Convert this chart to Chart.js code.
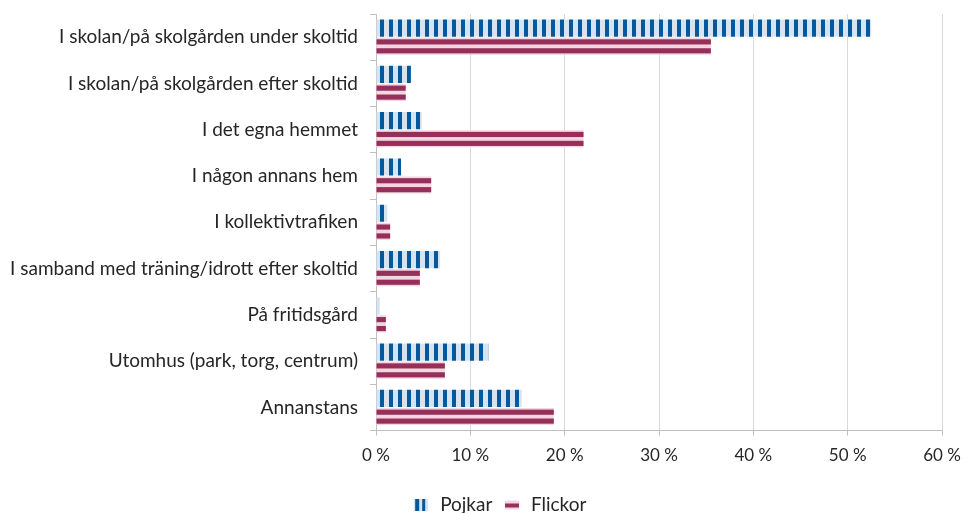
<!DOCTYPE html>
<html>
<head>
<meta charset="utf-8">
<script src="https://cdn.jsdelivr.net/npm/chart.js@4.4.1/dist/chart.umd.min.js"></script>
<style>
  html, body { margin: 0; padding: 0; background: #fff; }
  #wrap { width: 965px; height: 513px; }
</style>
</head>
<body>
<div id="wrap"><canvas id="myChart" width="965" height="513"></canvas></div>
<script>
// Categories and values (percent)
const places = [
  'I skolan/på skolgården under skoltid',
  'I skolan/på skolgården efter skoltid',
  'I det egna hemmet',
  'I någon annans hem',
  'I kollektivtrafiken',
  'I samband med träning/idrott efter skoltid',
  'På fritidsgård',
  'Utomhus (park, torg, centrum)',
  'Annanstans'
];
const pojkar = [52.5, 3.7, 4.85, 2.65, 1.2, 6.8, 0.4, 11.9, 15.45];
const flickor = [35.5, 3.15, 22.0, 5.85, 1.5, 4.65, 1.05, 7.3, 18.85];
const seriesNames = ['Pojkar', 'Flickor'];
const xTicks = [0, 10, 20, 30, 40, 50, 60];

const blueDark = '#04589b', blueLight = '#d6e4f1';
const redDark = '#96305a', redLight = '#f3d6e0';
const font = 'Lato, "Open Sans", sans-serif';

// Vertical stripe pattern for Pojkar
function stripePattern() {
  const c = document.createElement('canvas');
  c.width = 9; c.height = 4;
  const g = c.getContext('2d');
  g.fillStyle = blueLight; g.fillRect(0, 0, 9, 4);
  g.fillStyle = blueDark; g.fillRect(2, 0, 4, 4);
  return g.createPattern(c, 'repeat');
}
const bluePattern = stripePattern();

// Small legend icons
function legendIcon(vertical) {
  const c = document.createElement('canvas');
  c.width = 14; c.height = 12;
  const g = c.getContext('2d');
  if (vertical) {
    g.fillStyle = blueLight; g.fillRect(0, 0, 14, 12);
    g.fillStyle = blueDark; g.fillRect(1, 0, 4, 12); g.fillRect(8, 0, 3, 12);
  } else {
    g.fillStyle = redLight; g.fillRect(0, 2, 14, 9);
    g.fillStyle = redDark; g.fillRect(0, 5, 14, 4);
  }
  return c;
}

// Draw the horizontal stripes inside the Flickor bars
const stripes = {
  id: 'stripes',
  afterDatasetDraw(chart, args) {
    if (args.index !== 1) return;
    const ctx = chart.ctx;
    ctx.save();
    args.meta.data.forEach(bar => {
      const top = bar.y - bar.height / 2;
      const h = bar.height;
      const w = bar.x - bar.base;
      ctx.fillStyle = redDark;
      ctx.fillRect(bar.base, top + h * 0.1, w, h * 0.3);
      ctx.fillRect(bar.base, top + h * 0.62, w, h * 0.3);
    });
    ctx.restore();
  }
};

// Nudge the legend a bit to the right, like the original
const legendShift = {
  id: 'legendShift',
  afterLayout(chart) {
    chart.legend.left += 26;
    chart.legend.right += 26;
  }
};

const ctx = document.getElementById('myChart').getContext('2d');
new Chart(ctx, {
  type: 'bar',
  data: {
    labels: places,
    datasets: [
      { label: seriesNames[0], data: pojkar, backgroundColor: bluePattern, pointStyle: legendIcon(true) },
      { label: seriesNames[1], data: flickor, backgroundColor: redLight, pointStyle: legendIcon(false) }
    ]
  },
  options: {
    indexAxis: 'y',
    responsive: false,
    animation: false,
    categoryPercentage: 0.78,
    barPercentage: 0.95,
    layout: { padding: { top: 14, right: 23, left: 4, bottom: -11 } },
    scales: {
      x: {
        min: 0, max: 60,
        afterBuildTicks: s => { s.ticks = xTicks.map(v => ({ value: v })); },
        afterFit: s => { s.height += 9; s.paddingLeft = 0; s.paddingRight = 0; },
        grid: { color: '#d9d9d9', tickLength: 5, tickColor: '#bfbfbf' },
        border: { color: '#bfbfbf' },
        ticks: { color: '#262626', font: { family: font, size: 17 }, padding: 10, callback: v => v + ' %' }
      },
      y: {
        afterFit: s => { s.width = 372; s.paddingTop = 0; s.paddingBottom = 0; },
        grid: { drawOnChartArea: false, tickLength: 6, color: '#bfbfbf' },
        border: { color: '#bfbfbf' },
        ticks: { color: '#262626', font: { family: font, size: 19 }, padding: 12 }
      }
    },
    plugins: {
      legend: {
        position: 'bottom',
        labels: {
          usePointStyle: true,
          color: '#262626',
          font: { family: font, size: 19 },
          padding: 10
        }
      },
      tooltip: { enabled: false }
    }
  },
  plugins: [stripes, legendShift]
});
</script>
</body>
</html>
